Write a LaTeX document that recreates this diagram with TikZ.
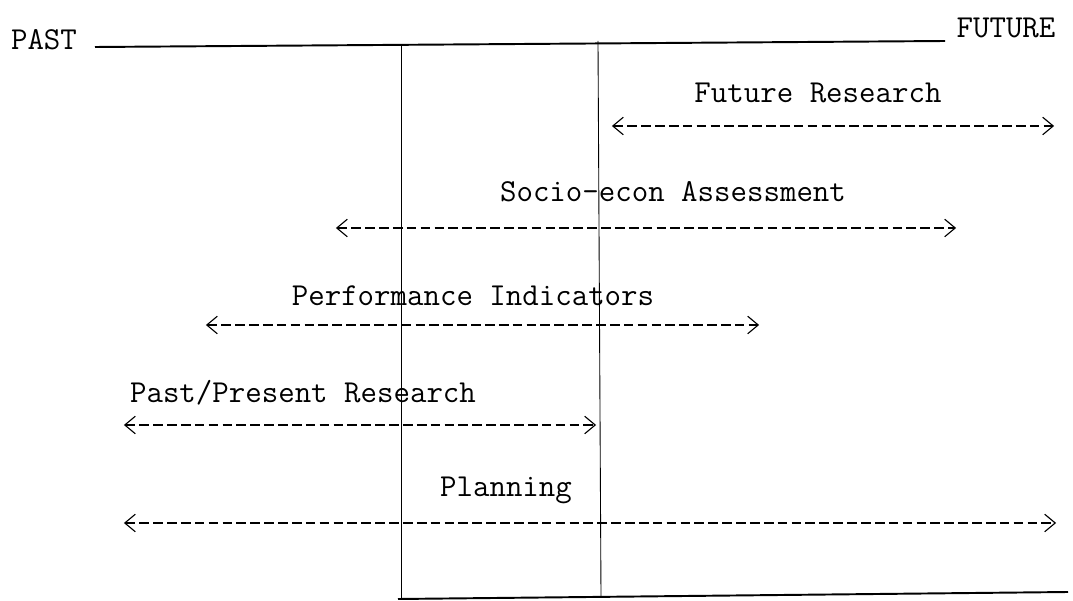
\documentclass[tikz,border=0pt]{standalone}
\usepackage{tikz}
\usetikzlibrary{arrows.meta}

\tikzset{
    span/.style={line width=0.65pt, dash pattern=on 5.5pt off 2.4pt,
        {Straight Barb[length=6pt,width=10pt,line width=0.65pt,sep=4.5pt]}-{Straight Barb[length=6pt,width=10pt,line width=0.65pt,sep=4.5pt]}},
    lbl/.style={font=\ttfamily\fontsize{18.2}{20}\selectfont, inner sep=0pt},
    rule/.style={line width=1.1pt},
    mark line/.style={line width=0.5pt}
}

\begin{document}
\begin{tikzpicture}[x=0.02cm, y=-0.02cm]
    \useasboundingbox (0,0) rectangle (1073,601);

    % time axis
    \node[lbl] (past) at (44,40) {PAST};
    \node[lbl] (future) at (1006,28) {FUTURE};
    \coordinate (axis-l) at (95,47);
    \coordinate (axis-r) at (945,41);
    \draw[rule] (axis-l) -- (axis-r);

    % the present
    \coordinate (now-lt) at (401,46);
    \coordinate (now-lb) at (401,598);
    \coordinate (now-rt) at (598,41);
    \coordinate (now-rb) at (601,596);
    \draw[mark line] (now-lt) -- (now-lb);
    \draw[mark line] (now-rt) -- (now-rb);
    \coordinate (base-l) at (398,599);
    \coordinate (base-r) at (1068,592);
    \draw[rule] (base-l) -- (base-r);

    % activities
    \foreach \nm/\txt/\tx/\ty/\xa/\xb/\yy in {
        futres/Future Research/818/93/604/1062/126,
        socio/Socio-econ Assessment/673/192/328/964/228,
        perf/Performance Indicators/473/296/198/767/325,
        pastres/Past\slash Present Research/303/393/116/604/425,
        plan/Planning/506/490/116/1064/523} {
        \node[lbl] (\nm) at (\tx,\ty) {\txt};
        \coordinate (\nm-l) at (\xa,\yy);
        \coordinate (\nm-r) at (\xb,\yy);
        \draw[span] (\nm-l) -- (\nm-r);
    }
\end{tikzpicture}
\end{document}
